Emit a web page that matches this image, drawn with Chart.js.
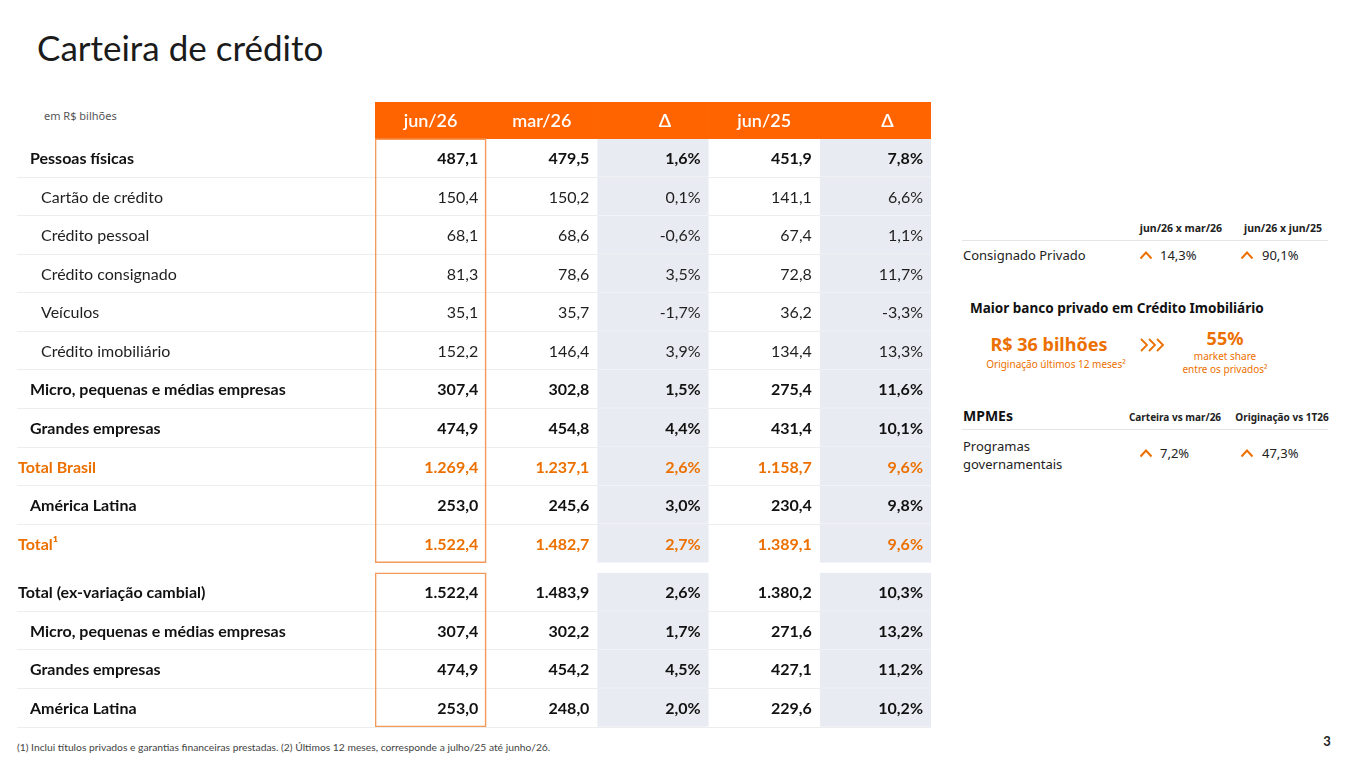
<!DOCTYPE html>
<html lang="pt-BR">
<head>
<meta charset="utf-8">
<title>Carteira de crédito</title>
<script src="https://cdn.jsdelivr.net/npm/chart.js@4.4.1/dist/chart.umd.min.js"></script>
<style>
  html, body { margin: 0; padding: 0; background: #fff; }
  body { width: 1365px; height: 768px; position: relative; overflow: hidden; font-family: Lato, "Noto Sans", sans-serif; color: #1a1a1a; }
  #wrap { position: absolute; left: 0; top: 0; width: 950px; height: 740px; }
  .t { position: absolute; white-space: nowrap; line-height: 1; transform: translateY(-50%); }
  .c { transform: translate(-50%, -50%); text-align: center; }
  .side { font-family: "Noto Sans", sans-serif; }
  .org { color: #EC7000; }
  .rule { position: absolute; height: 1px; background: #e4e4e4; }
  svg { position: absolute; overflow: visible; }
</style>
</head>
<body>

<div class="t" style="left:37px; top:47px; font-size:35px; color:#1b1b1b;">Carteira de crédito</div>
<div class="t side" style="left:44px; top:115px; font-size:11px; color:#555;">em R$ bilhões</div>

<div id="wrap"><canvas id="tabela"></canvas></div>

<!-- painel lateral -->
<div class="t c side" style="left:1181px; top:228px; font-size:10.5px; font-weight:bold; color:#222;">jun/26 x mar/26</div>
<div class="t c side" style="left:1283px; top:228px; font-size:10.5px; font-weight:bold; color:#222;">jun/26 x jun/25</div>
<div class="rule" style="left:962px; top:240px; width:366px;"></div>
<div class="t side" style="left:963px; top:255px; font-size:13px; color:#222;">Consignado Privado</div>
<svg style="left:1139px; top:250px;" width="14" height="10"><polyline points="1.5,8.5 7,2.5 12.5,8.5" fill="none" stroke="#EC7000" stroke-width="2"/></svg>
<div class="t side" style="left:1160px; top:255px; font-size:13px; color:#222;">14,3%</div>
<svg style="left:1240px; top:250px;" width="14" height="10"><polyline points="1.5,8.5 7,2.5 12.5,8.5" fill="none" stroke="#EC7000" stroke-width="2"/></svg>
<div class="t side" style="left:1262px; top:255px; font-size:13px; color:#222;">90,1%</div>

<div class="t side" style="left:970px; top:309px; font-size:13.5px; font-weight:bold; color:#111;">Maior banco privado em Crédito Imobiliário</div>
<div class="t c side org" style="left:1049px; top:344px; font-size:18px; font-weight:bold;">R$ 36 bilhões</div>
<div class="t c side org" style="left:1056px; top:364px; font-size:10px;">Originação últimos 12 meses²</div>
<svg style="left:1140px; top:338px;" width="28" height="16">
  <polyline points="1,1 7,7 1,13" fill="none" stroke="#EC7000" stroke-width="1.8"/>
  <polyline points="9,1 15,7 9,13" fill="none" stroke="#EC7000" stroke-width="1.8"/>
  <polyline points="17,1 23,7 17,13" fill="none" stroke="#EC7000" stroke-width="1.8"/>
</svg>
<div class="t c side org" style="left:1225px; top:338px; font-size:18px; font-weight:bold;">55%</div>
<div class="t c side org" style="left:1225px; top:356px; font-size:10px;">market share</div>
<div class="t c side org" style="left:1225px; top:369px; font-size:10px;">entre os privados²</div>

<div class="t side" style="left:963px; top:416px; font-size:14px; font-weight:bold; color:#111;">MPMEs</div>
<div class="t c side" style="left:1175px; top:417px; font-size:10px; font-weight:bold; color:#222;">Carteira vs mar/26</div>
<div class="t c side" style="left:1282px; top:417px; font-size:10px; font-weight:bold; color:#222;">Originação vs 1T26</div>
<div class="rule" style="left:962px; top:429px; width:366px;"></div>
<div class="t side" style="left:963px; top:446px; font-size:13px; color:#222;">Programas</div>
<div class="t side" style="left:963px; top:464px; font-size:13px; color:#222;">governamentais</div>
<svg style="left:1139px; top:448px;" width="14" height="10"><polyline points="1.5,8.5 7,2.5 12.5,8.5" fill="none" stroke="#EC7000" stroke-width="2"/></svg>
<div class="t side" style="left:1160px; top:453px; font-size:13px; color:#222;">7,2%</div>
<svg style="left:1240px; top:448px;" width="14" height="10"><polyline points="1.5,8.5 7,2.5 12.5,8.5" fill="none" stroke="#EC7000" stroke-width="2"/></svg>
<div class="t side" style="left:1262px; top:453px; font-size:13px; color:#222;">47,3%</div>

<div class="t" style="left:17px; top:747px; font-size:10.3px; color:#444;">(1) Inclui títulos privados e garantias financeiras prestadas. (2) Últimos 12 meses, corresponde a julho/25 até junho/26.</div>
<div class="t c" style="left:1327px; top:741px; font-size:13px; font-weight:bold; color:#222;">3</div>

<script>
// colunas e linhas da tabela
const colLabels = ['jun/26', 'mar/26', 'Δ', 'jun/25', 'Δ'];
const rowLabels = [
  'Pessoas físicas', 'Cartão de crédito', 'Crédito pessoal', 'Crédito consignado', 'Veículos',
  'Crédito imobiliário', 'Micro, pequenas e médias empresas', 'Grandes empresas', 'Total Brasil',
  'América Latina', 'Total¹', 'Total (ex-variação cambial)', 'Micro, pequenas e médias empresas',
  'Grandes empresas', 'América Latina'
];
const rowKind = ['group', 'item', 'item', 'item', 'item', 'item', 'group', 'group', 'total',
  'group', 'total', 'grand', 'group', 'group', 'group'];

// valores em R$ bilhões e variações em %
const jun26 = [487.1, 150.4, 68.1, 81.3, 35.1, 152.2, 307.4, 474.9, 1269.4, 253.0, 1522.4, 1522.4, 307.4, 474.9, 253.0];
const mar26 = [479.5, 150.2, 68.6, 78.6, 35.7, 146.4, 302.8, 454.8, 1237.1, 245.6, 1482.7, 1483.9, 302.2, 454.2, 248.0];
const varTri = [1.6, 0.1, -0.6, 3.5, -1.7, 3.9, 1.5, 4.4, 2.6, 3.0, 2.7, 2.6, 1.7, 4.5, 2.0];
const jun25 = [451.9, 141.1, 67.4, 72.8, 36.2, 134.4, 275.4, 431.4, 1158.7, 230.4, 1389.1, 1380.2, 271.6, 427.1, 229.6];
const varAno = [7.8, 6.6, 1.1, 11.7, -3.3, 13.3, 11.6, 10.1, 9.6, 9.8, 9.6, 10.3, 13.2, 11.2, 10.2];

const ORANGE = '#EC7000';
const BLOCK1 = 11;   // linhas do primeiro bloco
const GAP = 0.26;    // espaço entre os blocos (em linhas)
const HEAD = 0.95;   // altura do cabeçalho (em linhas)
const rowTop = i => (i < BLOCK1 ? i : i + GAP);
const deltaCols = [2, 4];
const headShift = [0, 0, 12, 0, 12];

const kindStyle = {
  group: { indent: 13, weight: 'bold', color: '#111' },
  item: { indent: 24, weight: 'normal', color: '#1f1f1f' },
  total: { indent: 1, weight: 'bold', color: ORANGE },
  grand: { indent: 1, weight: 'bold', color: '#111' }
};

function fmtNum(v) {
  const [i, d] = Math.abs(v).toFixed(1).split('.');
  return (v < 0 ? '-' : '') + i.replace(/\B(?=(\d{3})+(?!\d))/g, '.') + ',' + d;
}
const fmtPct = v => fmtNum(v) + '%';

// textos da tabela, posicionados pelas escalas
const tableText = {
  id: 'tableText',
  afterDraw(chart) {
    const { ctx, scales: { x, y } } = chart;
    const half = (x.getPixelForValue(1) - x.getPixelForValue(0)) / 2;
    const cols = [jun26, mar26, varTri, jun25, varAno];
    ctx.save();
    ctx.textBaseline = 'middle';

    ctx.fillStyle = '#fff';
    ctx.font = '600 18px Lato';
    ctx.textAlign = 'center';
    colLabels.forEach((lab, c) => {
      ctx.fillText(lab, x.getPixelForValue(c) + headShift[c], y.getPixelForValue(-HEAD / 2) + 1);
    });

    rowLabels.forEach((lab, i) => {
      const st = kindStyle[rowKind[i]];
      const cy = y.getPixelForValue(rowTop(i) + 0.5) + 1;
      ctx.font = st.weight + ' 16px Lato';
      ctx.fillStyle = st.color;
      ctx.textAlign = 'left';
      ctx.fillText(lab, y.left + st.indent, cy);
      ctx.textAlign = 'right';
      cols.forEach((vals, c) => {
        const txt = deltaCols.includes(c) ? fmtPct(vals[i]) : fmtNum(vals[i]);
        ctx.fillText(txt, x.getPixelForValue(c) + half - 8, cy);
      });
    });
    ctx.restore();
  }
};

new Chart(document.getElementById('tabela'), {
  type: 'bar',
  data: {
    datasets: [
      {
        // moldura da coluna jun/26
        data: [
          { x: 0, y: [0, BLOCK1] },
          { x: 0, y: [BLOCK1 + GAP, rowLabels.length + GAP] }
        ],
        backgroundColor: 'rgba(0,0,0,0)',
        borderColor: '#F39A5B',
        borderWidth: 1,
        borderSkipped: false
      },
      {
        // cabeçalho
        data: colLabels.map((_, c) => ({ x: c, y: [-HEAD, 0] })),
        backgroundColor: '#FF6400',
        borderWidth: 0
      },
      {
        // células das variações
        data: rowLabels.flatMap((_, i) => deltaCols.map(c => ({ x: c, y: [rowTop(i), rowTop(i) + 1] }))),
        backgroundColor: '#E8EBF1',
        borderColor: '#F4F5F8',
        borderWidth: { top: 0, right: 0, bottom: 1, left: 0 },
        borderSkipped: false
      }
    ]
  },
  options: {
    responsive: true,
    maintainAspectRatio: false,
    animation: false,
    datasets: { bar: { grouped: false, categoryPercentage: 1, barPercentage: 1 } },
    layout: { padding: { top: 102, bottom: 13, left: 17, right: 19 } },
    plugins: { legend: { display: false }, tooltip: { enabled: false } },
    scales: {
      x: {
        type: 'linear',
        offset: false,
        min: -0.5,
        max: colLabels.length - 0.5,
        display: false,
        afterBuildTicks: s => { s.ticks = colLabels.map((_, c) => ({ value: c })); }
      },
      y: {
        type: 'linear',
        reverse: true,
        min: -HEAD,
        max: rowLabels.length + GAP,
        afterBuildTicks: s => {
          s.ticks = rowLabels.map((_, i) => ({ value: rowTop(i) + 1 })).filter(t => t.value !== BLOCK1);
        },
        afterFit: s => { s.width = 358; },
        ticks: { display: false },
        grid: { color: '#EDEDED', tickLength: 358, drawTicks: true },
        border: { display: false }
      }
    }
  },
  plugins: [tableText]
});
</script>
</body>
</html>
